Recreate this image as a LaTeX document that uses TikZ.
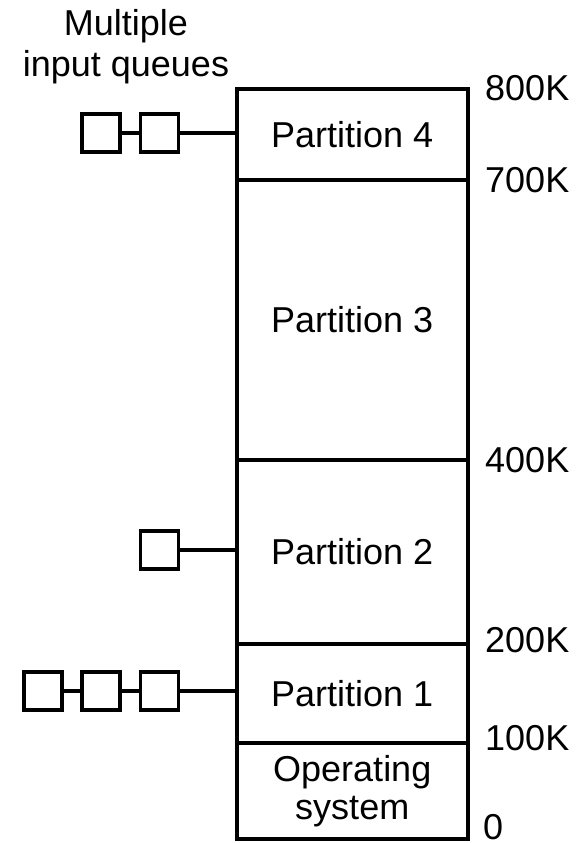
\documentclass[tikz,border=0pt]{standalone}
\usepackage{fontspec}
\setmainfont{Liberation Sans}
\begin{document}
\begin{tikzpicture}[x=1pt,y=-1pt,
  part/.style={draw,line width=3.5pt,minimum width=231pt,inner sep=0pt,anchor=north west,font=\fontsize{36}{38}\selectfont,align=center},
  qbox/.style={draw,line width=3.5pt,minimum width=38pt,minimum height=38pt,inner sep=0pt},
  lbl/.style={anchor=west,font=\fontsize{36}{38}\selectfont,inner sep=0pt},
  link/.style={line width=3.5pt}]
\useasboundingbox (0,0) rectangle (576,843);
\node[part,minimum height=91pt] (p4) at (235,87) {Partition 4};
\node[part,minimum height=280pt] (p3) at (235,178) {Partition 3};
\node[part,minimum height=184pt] (p2) at (235,458) {Partition 2};
\node[part,minimum height=99pt] (p1) at (235,642) {Partition 1};
\node[part,minimum height=96pt] (os) at (235,741) {Operating\\system};
\node[lbl] (l800) at (485,88) {800K};
\node[lbl] (l700) at (485,180) {700K};
\node[lbl] (l400) at (485,460) {400K};
\node[lbl] (l200) at (485,640) {200K};
\node[lbl] (l100) at (485,738) {100K};
\node[lbl] (l0) at (483,827) {0};
\node[align=center,font=\fontsize{36}{41}\selectfont,inner sep=0pt] (title) at (126,47) {Multiple\\input queues};
% Partition 4 queue
\node[qbox] (q4a) at (101,133) {};
\node[qbox] (q4b) at (159.5,133) {};
\draw[link] (q4a) -- (q4b);
\draw[link] (q4b) -- (q4b -| p4.west);
% Partition 2 queue
\node[qbox] (q2a) at (159.5,550) {};
\draw[link] (q2a) -- (q2a -| p2.west);
% Partition 1 queue
\node[qbox] (q1a) at (43,691) {};
\node[qbox] (q1b) at (101,691) {};
\node[qbox] (q1c) at (159.5,691) {};
\draw[link] (q1a) -- (q1b);
\draw[link] (q1b) -- (q1c);
\draw[link] (q1c) -- (q1c -| p1.west);
\end{tikzpicture}
\end{document}
